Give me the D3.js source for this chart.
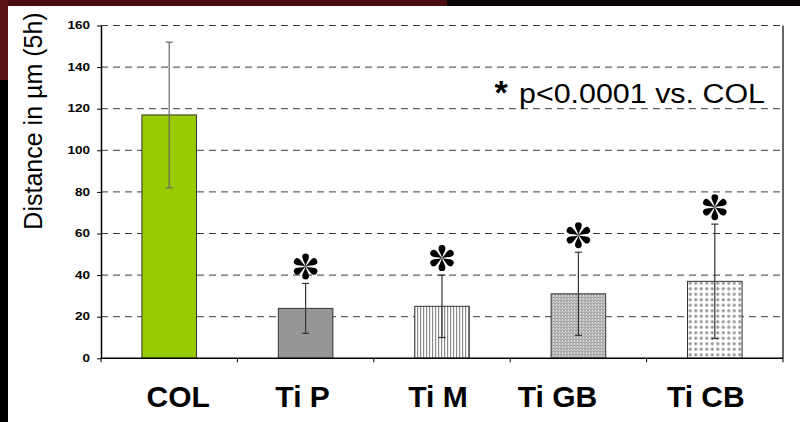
<!DOCTYPE html>
<html>
<head>
<meta charset="utf-8">
<script src="https://cdn.jsdelivr.net/npm/d3@7"></script>
<style>
  body { margin: 0; background: #fff; }
  svg { display: block; font-family: "Liberation Sans", Arial, sans-serif; }
</style>
</head>
<body>
<svg id="chart" width="800" height="422"></svg>
<script>
// data
var categories = ["COL", "Ti P", "Ti M", "Ti GB", "Ti CB"];
var means = [117, 24, 25, 31, 37];
var sds = [35, 12, 15, 20, 27.5];
var significant = [false, true, true, true, true];
var yTicks = [0, 20, 40, 60, 80, 100, 120, 140, 160];

var svg = d3.select("#chart");

// slide background strips
svg.append("rect").attr("x", 0).attr("y", 0).attr("width", 800).attr("height", 6).attr("fill", "#0a0505");
svg.append("rect").attr("x", 0).attr("y", 0).attr("width", 447).attr("height", 6).attr("fill", "#4a0d0e");
svg.append("rect").attr("x", 0).attr("y", 0).attr("width", 8).attr("height", 422).attr("fill", "#000");
svg.append("rect").attr("x", 0).attr("y", 0).attr("width", 8).attr("height", 80).attr("fill", "#5a1212");

var plotLeft = 101, plotRight = 783, plotTop = 25.5, plotBottom = 358.3;

var x = d3.scaleBand()
    .domain(categories)
    .range([plotLeft, plotRight])
    .paddingInner(0.6)
    .paddingOuter(0.3);

var y = d3.scaleLinear()
    .domain([0, 160])
    .range([plotBottom, plotTop]);

// patterns
var defs = svg.append("defs");

var pM = defs.append("pattern").attr("id", "vstripe")
    .attr("patternUnits", "userSpaceOnUse").attr("width", 3).attr("height", 3);
pM.append("rect").attr("width", 3).attr("height", 3).attr("fill", "#fff");
pM.append("rect").attr("x", 0).attr("width", 1.2).attr("height", 3).attr("fill", "#8a8a8a");

var pGB = defs.append("pattern").attr("id", "finegrid")
    .attr("patternUnits", "userSpaceOnUse").attr("width", 3).attr("height", 3);
pGB.append("rect").attr("width", 3).attr("height", 3).attr("fill", "#a9a9a9");
pGB.append("rect").attr("x", 1).attr("y", 1).attr("width", 1).attr("height", 1).attr("fill", "#e8e8e8");
pGB.append("rect").attr("x", 0).attr("y", 2).attr("width", 3).attr("height", 0.6).attr("fill", "#d0d0d0");

var pCB = defs.append("pattern").attr("id", "crossdot")
    .attr("patternUnits", "userSpaceOnUse").attr("width", 5.5).attr("height", 5.5);
pCB.append("rect").attr("width", 5.5).attr("height", 5.5).attr("fill", "#fff");
pCB.append("rect").attr("x", 1).attr("y", 2).attr("width", 3.5).attr("height", 1.5).attr("fill", "#9a9a9a");
pCB.append("rect").attr("x", 2).attr("y", 1).attr("width", 1.5).attr("height", 3.5).attr("fill", "#9a9a9a");

var fills = {
    "COL": "#99cc00",
    "Ti P": "#969696",
    "Ti M": "url(#vstripe)",
    "Ti GB": "url(#finegrid)",
    "Ti CB": "url(#crossdot)"
};

// gridlines
svg.append("g").selectAll("line")
    .data(yTicks.filter(function(d) { return d > 0; }))
    .enter().append("line")
    .attr("x1", plotLeft).attr("x2", plotRight)
    .attr("y1", function(d) { return y(d); })
    .attr("y2", function(d) { return y(d); })
    .attr("stroke", "#3a3a3a")
    .attr("stroke-width", 1)
    .attr("stroke-dasharray", "7,5");

// right border
svg.append("line")
    .attr("x1", plotRight).attr("x2", plotRight)
    .attr("y1", plotTop).attr("y2", plotBottom)
    .attr("stroke", "#000").attr("stroke-width", 1.2);

// y axis
var yAxis = svg.append("g")
    .attr("transform", "translate(" + plotLeft + ",0)")
    .call(d3.axisLeft(y).tickValues(yTicks).tickSize(4).tickSizeOuter(0));
yAxis.select(".domain").attr("stroke", "#000").attr("stroke-width", 1.5);
yAxis.selectAll(".tick line").attr("stroke", "#000");
yAxis.selectAll(".tick text")
    .attr("x", -11 / 1.35)
    .attr("transform", "scale(1.35,1)")
    .attr("font-size", 10)
    .attr("font-weight", "bold")
    .attr("font-family", "Liberation Sans, Arial, sans-serif")
    .attr("fill", "#000");

// bars
svg.append("g").selectAll("rect")
    .data(categories)
    .enter().append("rect")
    .attr("x", function(d) { return x(d); })
    .attr("width", x.bandwidth())
    .attr("y", function(d, i) { return y(means[i]); })
    .attr("height", function(d, i) { return y(0) - y(means[i]); })
    .attr("fill", function(d) { return fills[d]; })
    .attr("stroke", "#333")
    .attr("stroke-width", 1);

// error bars
var eb = svg.append("g").selectAll("g")
    .data(categories)
    .enter().append("g")
    .attr("stroke", function(d, i) { return i === 0 ? "#666" : "#333"; })
    .attr("stroke-width", 1.2);
eb.append("line")
    .attr("x1", function(d) { return x(d) + x.bandwidth() / 2; })
    .attr("x2", function(d) { return x(d) + x.bandwidth() / 2; })
    .attr("y1", function(d, i) { return y(means[i] - sds[i]); })
    .attr("y2", function(d, i) { return y(means[i] + sds[i]); });
eb.selectAll(".cap")
    .data(function(d, i) { return [{c: d, v: means[i] - sds[i]}, {c: d, v: means[i] + sds[i]}]; })
    .enter().append("line")
    .attr("x1", function(d) { return x(d.c) + x.bandwidth() / 2 - 3.5; })
    .attr("x2", function(d) { return x(d.c) + x.bandwidth() / 2 + 3.5; })
    .attr("y1", function(d) { return y(d.v); })
    .attr("y2", function(d) { return y(d.v); });

// x axis (bottom line plus ticks at band boundaries)
svg.append("line")
    .attr("x1", plotLeft).attr("x2", plotRight)
    .attr("y1", plotBottom).attr("y2", plotBottom)
    .attr("stroke", "#000").attr("stroke-width", 1.5);
svg.append("g").selectAll("line")
    .data(d3.range(categories.length + 1))
    .enter().append("line")
    .attr("x1", function(i) { return plotLeft + i * x.step(); })
    .attr("x2", function(i) { return plotLeft + i * x.step(); })
    .attr("y1", plotBottom).attr("y2", plotBottom + 4)
    .attr("stroke", "#000");

// category labels (text boxes sat a little off-centre in the original)
var nudge = {"COL": 9, "Ti P": -3, "Ti M": -4, "Ti GB": -21, "Ti CB": -9};
svg.append("g").selectAll("text")
    .data(categories)
    .enter().append("text")
    .attr("x", function(d) { return x(d) + x.bandwidth() / 2 + nudge[d]; })
    .attr("y", 407)
    .attr("text-anchor", "middle")
    .attr("font-size", 30)
    .attr("font-weight", "bold")
    .text(function(d) { return d; });

// significance asterisks: six teardrop spokes
var petal = "M0,0 C-0.8,-4 -3.4,-7 -3.4,-9.6 A3.4,3.4 0 0 1 3.4,-9.6 C3.4,-7 0.8,-4 0,0 Z";
var stars = svg.append("g").selectAll("g")
    .data(categories.filter(function(d, i) { return significant[i]; }))
    .enter().append("g")
    .attr("transform", function(d) {
        var i = categories.indexOf(d);
        return "translate(" + (x(d) + x.bandwidth() / 2) + "," + (y(means[i] + sds[i]) - 17) + ")";
    });
stars.selectAll("path")
    .data([0, 60, 120, 180, 240, 300])
    .enter().append("path")
    .attr("d", petal)
    .attr("transform", function(a) { return "rotate(" + a + ")"; })
    .attr("fill", "#000");

// annotation
svg.append("text")
    .attr("x", 501).attr("y", 104)
    .attr("text-anchor", "middle")
    .attr("font-size", 34)
    .attr("font-weight", "bold")
    .text("*");
svg.append("text")
    .attr("x", 519).attr("y", 103)
    .attr("font-size", 27)
    .attr("textLength", 246)
    .attr("lengthAdjust", "spacingAndGlyphs")
    .text("p<0.0001 vs. COL");

// y label
svg.append("text")
    .attr("transform", "translate(42,121) rotate(-90)")
    .attr("text-anchor", "middle")
    .attr("font-size", 25)
    .text("Distance in µm (5h)");
</script>
</body>
</html>
